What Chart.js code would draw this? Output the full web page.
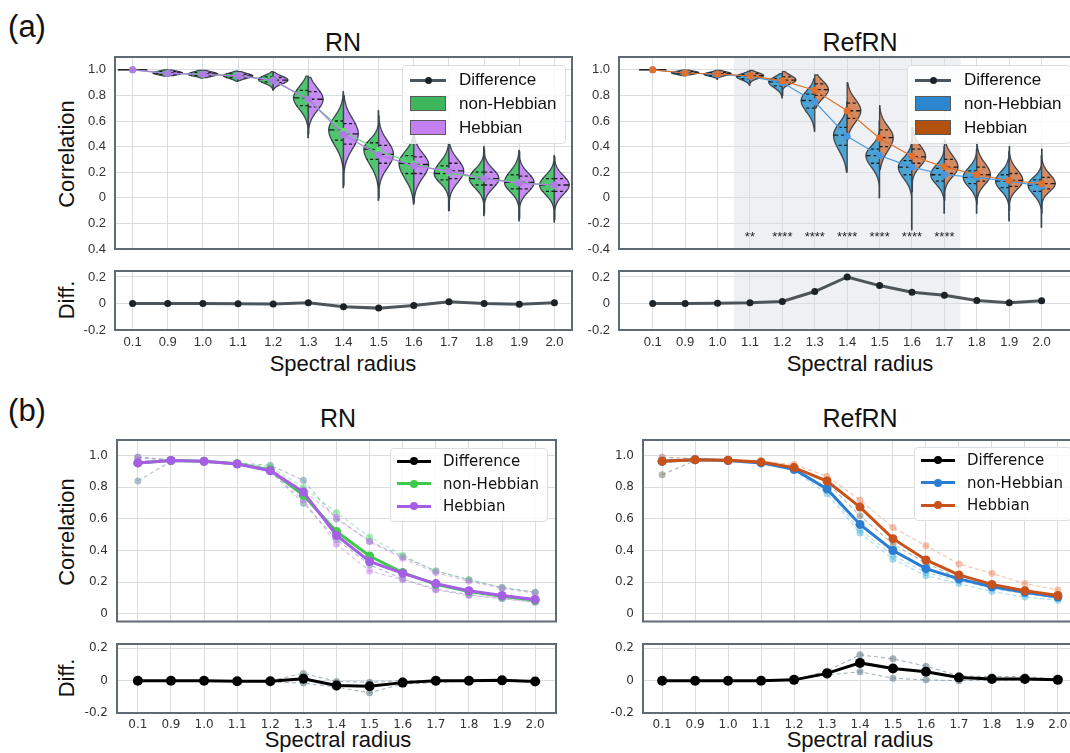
<!DOCTYPE html>
<html>
<head>
<meta charset="utf-8">
<title>Correlation vs spectral radius</title>
<script src="https://cdn.jsdelivr.net/npm/chart.js@4.4.1/dist/chart.umd.min.js"></script>
<style>
    body { margin: 0; width: 1070px; height: 753px; overflow: hidden; position: relative; background: #fff;
           font-family: 'Liberation Sans', Arial, sans-serif; color: #111; }
    canvas { position: absolute; }
    .txt { position: absolute; transform: translate(-50%, -50%); white-space: nowrap; }
    .rot { transform: translate(-50%, -50%) rotate(-90deg); }
    .legend { position: absolute; white-space: nowrap; background: rgba(255, 255, 255, 0.82); border: 1px solid #dcdfe2; border-radius: 4px; color: #111; }
    .legend .row { display: flex; align-items: center; }
    .legend .sym { position: relative; display: inline-block; flex: none; }
</style>
</head>
<body>
<div class="txt" style="left:27px;top:27px;font-size:31px">(a)</div>
<div class="txt" style="left:343px;top:42px;font-size:25px">RN</div>
<div class="txt" style="left:860px;top:42px;font-size:25px">RefRN</div>
<div class="txt rot" style="left:67px;top:154px;font-size:22px">Correlation</div>
<div class="txt rot" style="left:67px;top:300px;font-size:22px">Diff.</div>
<div class="txt" style="left:343px;top:364px;font-size:22px">Spectral radius</div>
<div class="txt" style="left:860px;top:364px;font-size:22px">Spectral radius</div>

<div class="txt" style="left:27px;top:411px;font-size:31px">(b)</div>
<div class="txt" style="left:338px;top:418px;font-size:25px">RN</div>
<div class="txt" style="left:860px;top:418px;font-size:25px">RefRN</div>
<div class="txt rot" style="left:67px;top:532px;font-size:22px">Correlation</div>
<div class="txt rot" style="left:67px;top:678px;font-size:22px">Diff.</div>
<div class="txt" style="left:338px;top:740px;font-size:22px">Spectral radius</div>
<div class="txt" style="left:860px;top:740px;font-size:22px">Spectral radius</div>

<canvas id="aRnMain"></canvas>
<canvas id="aRnDiff"></canvas>
<canvas id="aRefMain"></canvas>
<canvas id="aRefDiff"></canvas>
<canvas id="bRnMain"></canvas>
<canvas id="bRnDiff"></canvas>
<canvas id="bRefMain"></canvas>
<canvas id="bRefDiff"></canvas>

<script>
// categories and tick labels
const radius = ['0.1', '0.9', '1.0', '1.1', '1.2', '1.3', '1.4', '1.5', '1.6', '1.7', '1.8', '1.9', '2.0'];
const seriesNames = ['Difference', 'non-Hebbian', 'Hebbian'];

const corrTicksA = [-0.4, -0.2, 0, 0.2, 0.4, 0.6, 0.8, 1.0];
const corrLabelsRn = ['0.4', '0.2', '0', '0.2', '0.4', '0.6', '0.8', '1.0'];
const corrLabelsRef = ['-0.4', '-0.2', '0', '0.2', '0.4', '0.6', '0.8', '1.0'];
const corrTicksB = [0, 0.2, 0.4, 0.6, 0.8, 1.0];
const corrLabelsB = ['0', '0.2', '0.4', '0.6', '0.8', '1.0'];
const diffTicks = [-0.2, -0.1, 0, 0.1, 0.2];
const diffLabels = ['-0.2', '', '0', '', '0.2'];
const diffMinor = [-0.1, 0.1];

// (a) violin halves per radius: [min, q1, median, q3, max]
const rnNonHebViolin = [
    [1, 1, 1, 1, 1], [0.95, 0.965, 0.975, 0.985, 1.0], [0.935, 0.955, 0.965, 0.978, 0.995],
    [0.91, 0.94, 0.955, 0.968, 0.99], [0.84, 0.905, 0.925, 0.945, 0.985], [0.47, 0.72, 0.78, 0.84, 0.95],
    [0.08, 0.45, 0.53, 0.6, 0.83], [-0.02, 0.3, 0.38, 0.43, 0.68], [-0.05, 0.19, 0.27, 0.33, 0.5],
    [-0.1, 0.14, 0.19, 0.25, 0.43], [-0.14, 0.1, 0.15, 0.2, 0.4], [-0.18, 0.07, 0.12, 0.18, 0.37],
    [-0.19, 0.05, 0.1, 0.15, 0.33]
];
const rnHebViolin = [
    [1, 1, 1, 1, 1], [0.955, 0.965, 0.975, 0.985, 0.998], [0.94, 0.955, 0.967, 0.978, 0.995],
    [0.915, 0.94, 0.952, 0.965, 0.985], [0.85, 0.9, 0.92, 0.94, 0.98], [0.5, 0.71, 0.77, 0.83, 0.94],
    [0.1, 0.42, 0.5, 0.58, 0.8], [0.0, 0.27, 0.34, 0.41, 0.64], [-0.04, 0.19, 0.26, 0.32, 0.5],
    [-0.1, 0.15, 0.21, 0.27, 0.42], [-0.12, 0.1, 0.15, 0.2, 0.38], [-0.16, 0.07, 0.12, 0.17, 0.36],
    [-0.17, 0.05, 0.1, 0.15, 0.32]
];
const refNonHebViolin = [
    [1, 1, 1, 1, 1], [0.955, 0.968, 0.977, 0.985, 0.998], [0.925, 0.955, 0.965, 0.975, 0.995],
    [0.88, 0.93, 0.948, 0.962, 0.99], [0.78, 0.875, 0.905, 0.93, 0.97], [0.52, 0.7, 0.76, 0.81, 0.93],
    [0.2, 0.41, 0.49, 0.55, 0.75], [0.0, 0.27, 0.33, 0.38, 0.6], [-0.25, 0.18, 0.24, 0.29, 0.45],
    [-0.12, 0.13, 0.18, 0.23, 0.4], [-0.12, 0.11, 0.16, 0.21, 0.38], [-0.18, 0.08, 0.13, 0.18, 0.36],
    [-0.23, 0.05, 0.1, 0.14, 0.33]
];
const refHebViolin = [
    [1, 1, 1, 1, 1], [0.96, 0.97, 0.978, 0.986, 0.998], [0.94, 0.96, 0.97, 0.98, 0.995],
    [0.9, 0.94, 0.955, 0.97, 0.995], [0.8, 0.9, 0.92, 0.945, 0.985], [0.7, 0.8, 0.845, 0.89, 0.96],
    [0.45, 0.62, 0.68, 0.74, 0.9], [0.22, 0.4, 0.47, 0.53, 0.72], [0.05, 0.27, 0.32, 0.38, 0.55],
    [-0.02, 0.19, 0.24, 0.3, 0.45], [-0.05, 0.13, 0.18, 0.24, 0.43], [-0.1, 0.09, 0.135, 0.19, 0.4],
    [-0.12, 0.07, 0.11, 0.16, 0.38]
];

// (a) means and differences
const rnNonHebMeanA = [1.0, 0.972, 0.965, 0.955, 0.92, 0.765, 0.52, 0.37, 0.265, 0.195, 0.15, 0.12, 0.095];
const rnHebMeanA = [1.0, 0.972, 0.965, 0.953, 0.917, 0.77, 0.495, 0.335, 0.25, 0.208, 0.15, 0.115, 0.1];
const rnDiffA = [0, 0, 0, -0.002, -0.003, 0.005, -0.025, -0.035, -0.015, 0.013, 0, -0.005, 0.005];
const refNonHebMeanA = [1.0, 0.975, 0.965, 0.948, 0.9, 0.75, 0.48, 0.33, 0.24, 0.18, 0.16, 0.13, 0.09];
const refHebMeanA = [1.0, 0.975, 0.967, 0.953, 0.915, 0.84, 0.68, 0.465, 0.325, 0.242, 0.182, 0.135, 0.11];
const refDiffA = [0, 0, 0.002, 0.005, 0.015, 0.09, 0.2, 0.135, 0.085, 0.062, 0.022, 0.005, 0.02];

// significance stars and the shaded band (category positions)
const refSignif = ['', '', '', '**', '****', '****', '****', '****', '****', '****', '', '', ''];
const refSignifAt = -0.31;
const refBand = [2.5, 9.5];

// (b) averaged curves
const rnNonHebMeanB = [0.955, 0.97, 0.965, 0.95, 0.91, 0.75, 0.52, 0.365, 0.26, 0.185, 0.14, 0.11, 0.085];
const rnHebMeanB = [0.955, 0.97, 0.965, 0.948, 0.905, 0.77, 0.495, 0.33, 0.255, 0.19, 0.145, 0.115, 0.09];
const rnDiffB = [0, 0, 0, -0.003, -0.003, 0.012, -0.03, -0.035, -0.012, 0, 0, 0.002, -0.005];
const refNonHebMeanB = [0.965, 0.975, 0.97, 0.955, 0.915, 0.79, 0.565, 0.4, 0.285, 0.22, 0.17, 0.135, 0.105];
const refHebMeanB = [0.965, 0.975, 0.972, 0.96, 0.925, 0.84, 0.675, 0.475, 0.34, 0.245, 0.185, 0.145, 0.115];
const refDiffB = [0, 0, 0, 0, 0.005, 0.045, 0.11, 0.075, 0.055, 0.02, 0.01, 0.01, 0.005];

// (b) individual runs
const rnNonHebRun1 = [0.99, 0.975, 0.968, 0.955, 0.93, 0.8, 0.64, 0.485, 0.37, 0.27, 0.215, 0.165, 0.135];
const rnNonHebRun2 = [0.99, 0.97, 0.96, 0.945, 0.9, 0.7, 0.47, 0.31, 0.22, 0.155, 0.12, 0.095, 0.075];
const rnHebRun1 = [0.99, 0.975, 0.965, 0.95, 0.92, 0.78, 0.61, 0.455, 0.35, 0.26, 0.205, 0.16, 0.13];
const rnHebRun2 = [0.97, 0.97, 0.96, 0.945, 0.9, 0.72, 0.44, 0.27, 0.215, 0.15, 0.115, 0.095, 0.07];
const rnRunSlate = [0.84, 0.965, 0.965, 0.955, 0.94, 0.845, 0.6, 0.46, 0.36, 0.27, 0.215, 0.165, 0.135];
const rnDiffRun1 = [0, 0, 0, 0, 0, 0.045, -0.005, -0.01, 0, 0, 0.003, 0.005, 0];
const rnDiffRun2 = [0, 0, 0, -0.003, -0.008, -0.015, -0.04, -0.075, -0.02, -0.012, 0, 0, -0.003];

const refNonHebRun1 = [0.99, 0.98, 0.975, 0.955, 0.905, 0.76, 0.51, 0.345, 0.24, 0.19, 0.14, 0.105, 0.085];
const refNonHebRun2 = [0.975, 0.975, 0.97, 0.955, 0.915, 0.78, 0.53, 0.37, 0.26, 0.21, 0.16, 0.125, 0.095];
const refHebRun1 = [0.99, 0.985, 0.975, 0.965, 0.945, 0.87, 0.72, 0.545, 0.43, 0.315, 0.255, 0.19, 0.15];
const refRunGray = [0.88, 0.97, 0.97, 0.96, 0.93, 0.83, 0.62, 0.44, 0.32, 0.225, 0.175, 0.14, 0.11];
const refDiffRun1 = [0, 0, 0, 0, 0.005, 0.06, 0.16, 0.135, 0.09, 0.03, 0.025, 0.025, 0.01];
const refDiffRun2 = [0, 0, 0, 0, 0.005, 0.035, 0.055, 0.015, 0.005, 0, 0.005, 0.005, 0.005];

const Y_W = 52;
const PAD = 10;
const HALF_W = 0.42;
const fontA = { family: "'Liberation Sans', Arial, sans-serif", size: 13 };
const fontB = { family: "'DejaVu Sans', sans-serif", size: 12 };

const pts = arr => arr.map((v, i) => ({ x: i, y: v }));

function line(data, color, extra) {
    return Object.assign({
        data: pts(data),
        borderColor: color,
        backgroundColor: color,
        pointBackgroundColor: color,
        pointBorderWidth: 0,
        borderWidth: 3,
        pointRadius: 4.5,
        tension: 0,
        fill: false
    }, extra || {});
}

function runLine(data, color) {
    return line(data, color, { borderWidth: 1.1, borderDash: [4, 3], pointRadius: 3.5 });
}

// box around the plot area
const framePlugin = {
    id: 'frame',
    afterDraw(chart) {
        const { ctx, chartArea: a } = chart;
        ctx.save();
        ctx.strokeStyle = '#5f6a74';
        ctx.lineWidth = 2;
        ctx.strokeRect(a.left, a.top, a.right - a.left, a.bottom - a.top);
        ctx.restore();
    }
};

function shade(range) {
    return {
        id: 'shade',
        beforeDraw(chart) {
            const { ctx, chartArea: a, scales: { x } } = chart;
            const x0 = x.getPixelForValue(range[0]);
            const x1 = x.getPixelForValue(range[1]);
            ctx.save();
            ctx.fillStyle = '#eef0f3';
            ctx.fillRect(x0, a.top, x1 - x0, a.bottom - a.top);
            ctx.restore();
        }
    };
}

// one side of a split violin, smoothed from its quartiles
function drawHalf(ctx, x, y, i, st, side, fill) {
    const [lo, q1, med, q3, hi] = st;
    const cx = x.getPixelForValue(i);
    const w = x.getPixelForValue(i + HALF_W) - cx;
    ctx.setLineDash([]);
    if (hi - lo < 1e-6) {
        ctx.strokeStyle = '#222';
        ctx.lineWidth = 1.6;
        ctx.beginPath();
        ctx.moveTo(cx, y.getPixelForValue(med));
        ctx.lineTo(cx + side * w, y.getPixelForValue(med));
        ctx.stroke();
        return;
    }
    const sLo = Math.max(med - q1, 1e-3) / 0.674;
    const sHi = Math.max(q3 - med, 1e-3) / 0.674;
    const dens = v => Math.max(Math.exp(-0.5 * Math.pow((v - med) / (v < med ? sLo : sHi), 2)), 0.03);
    const steps = 70;

    ctx.beginPath();
    ctx.moveTo(cx, y.getPixelForValue(lo));
    for (let k = 0; k <= steps; k++) {
        const v = lo + (hi - lo) * k / steps;
        ctx.lineTo(cx + side * w * dens(v), y.getPixelForValue(v));
    }
    ctx.lineTo(cx, y.getPixelForValue(hi));
    ctx.closePath();
    ctx.fillStyle = fill;
    ctx.fill();
    ctx.strokeStyle = '#3b4650';
    ctx.lineWidth = 1.3;
    ctx.lineJoin = 'round';
    ctx.stroke();

    // quartile lines
    ctx.strokeStyle = '#1b1b1b';
    ctx.lineWidth = 1.3;
    [q1, med, q3].forEach(v => {
        ctx.setLineDash(v === med ? [6, 3] : [3, 2.5]);
        ctx.beginPath();
        ctx.moveTo(cx, y.getPixelForValue(v));
        ctx.lineTo(cx + side * w * dens(v), y.getPixelForValue(v));
        ctx.stroke();
    });
    ctx.setLineDash([]);
}

function violins(left, right, colors) {
    return {
        id: 'violins',
        beforeDatasetsDraw(chart) {
            const { ctx, chartArea: a, scales: { x, y } } = chart;
            ctx.save();
            ctx.beginPath();
            ctx.rect(a.left, a.top, a.right - a.left, a.bottom - a.top);
            ctx.clip();
            left.forEach((st, i) => {
                drawHalf(ctx, x, y, i, st, -1, colors[0]);
                drawHalf(ctx, x, y, i, right[i], 1, colors[1]);
            });
            ctx.restore();
        }
    };
}

function sigMarks(marks, at) {
    return {
        id: 'sigMarks',
        afterDatasetsDraw(chart) {
            const { ctx, scales: { x, y } } = chart;
            ctx.save();
            ctx.fillStyle = '#222';
            ctx.font = "13px 'Liberation Sans', Arial, sans-serif";
            ctx.textAlign = 'center';
            ctx.textBaseline = 'middle';
            marks.forEach((m, i) => {
                if (m) ctx.fillText(m, x.getPixelForValue(i), y.getPixelForValue(at));
            });
            ctx.restore();
        }
    };
}

// axes keep no extra room for edge labels, so the plot area is exactly the box
function noEdgePadding(s) {
    s.paddingTop = 0;
    s.paddingBottom = 0;
    s.paddingLeft = 0;
    s.paddingRight = 0;
}

function panel(id, box, cfg) {
    const canvas = document.getElementById(id);
    const xh = cfg.xLabels ? 24 : 0;
    canvas.width = box.r - box.l + Y_W + PAD;
    canvas.height = box.b - box.t + PAD + xh + 2;
    canvas.style.left = (box.l - Y_W) + 'px';
    canvas.style.top = (box.t - PAD) + 'px';
    const minor = cfg.minor || [];

    return new Chart(canvas, {
        type: 'line',
        data: { datasets: cfg.datasets },
        options: {
            responsive: false,
            animation: false,
            devicePixelRatio: 1,
            layout: { padding: { top: PAD, right: PAD, left: 0, bottom: 2 } },
            plugins: { legend: { display: false }, tooltip: { enabled: false } },
            scales: {
                x: {
                    type: 'linear',
                    min: cfg.xMin,
                    max: cfg.xMax,
                    afterBuildTicks: s => { s.ticks = radius.map((_, i) => ({ value: i })); },
                    afterFit: s => { s.height = xh; noEdgePadding(s); },
                    border: { display: false },
                    grid: { color: '#d9dde2', drawTicks: false },
                    ticks: {
                        display: !!cfg.xLabels,
                        autoSkip: false,
                        maxRotation: 0,
                        padding: 5,
                        color: '#333',
                        font: cfg.font,
                        callback: v => radius[v]
                    }
                },
                y: {
                    min: cfg.yMin,
                    max: cfg.yMax,
                    afterBuildTicks: s => { s.ticks = cfg.yTicks.map(v => ({ value: v })); },
                    afterFit: s => { s.width = Y_W; noEdgePadding(s); },
                    border: { display: false },
                    grid: {
                        drawTicks: false,
                        color: c => (minor.includes(c.tick.value) ? '#e9ebee' : '#d9dde2')
                    },
                    ticks: {
                        padding: 9,
                        color: '#333',
                        font: cfg.font,
                        callback: (v, i) => cfg.yLabels[i]
                    }
                }
            }
        },
        plugins: [framePlugin].concat(cfg.plugins || [])
    });
}

// HTML legend placed over the plot area
function legend(left, top, entries, o) {
    const box = document.createElement('div');
    box.className = 'legend';
    box.style.left = left + 'px';
    box.style.top = top + 'px';
    box.style.padding = o.pad;
    box.style.font = o.font;
    entries.forEach(e => {
        const row = document.createElement('div');
        row.className = 'row';
        row.style.height = o.rowH + 'px';
        const sym = document.createElement('span');
        sym.className = 'sym';
        sym.style.width = o.symW + 'px';
        sym.style.height = o.rowH + 'px';
        sym.style.marginRight = o.gap + 'px';
        if (e.patch) {
            sym.innerHTML = '<span style="position:absolute;left:0;right:0;top:' + (o.rowH / 2 - 8) +
                'px;height:15px;box-sizing:border-box;border:1px solid #5a5a5a;background:' + e.color + '"></span>';
        } else {
            sym.innerHTML = '<span style="position:absolute;left:0;right:0;top:' + (o.rowH / 2 - 1.5) +
                'px;height:3px;background:' + e.color + '"></span>' +
                '<span style="position:absolute;left:' + (o.symW / 2 - o.dot / 2) + 'px;top:' + (o.rowH / 2 - o.dot / 2) +
                'px;width:' + o.dot + 'px;height:' + o.dot + 'px;border-radius:50%;background:' + (e.dotColor || e.color) + '"></span>';
        }
        const label = document.createElement('span');
        label.textContent = e.label;
        row.appendChild(sym);
        row.appendChild(label);
        box.appendChild(row);
    });
    document.body.appendChild(box);
}

// ---- (a) violins
const boxARnMain = { l: 115, t: 57, r: 572, b: 251 };
const boxARnDiff = { l: 115, t: 271, r: 572, b: 330 };
const boxARefMain = { l: 619, t: 57, r: 1075, b: 251 };
const boxARefDiff = { l: 619, t: 271, r: 1075, b: 330 };

const diffColorA = 'rgba(48, 58, 64, 0.85)';

panel('aRnMain', boxARnMain, {
    xMin: -0.5, xMax: 12.5, yMin: -0.4, yMax: 1.1,
    yTicks: corrTicksA, yLabels: corrLabelsRn, font: fontA,
    datasets: [
        line(rnHebMeanA, '#b07ae8', { borderWidth: 1.2, pointRadius: 3.5 }),
        line(rnNonHebMeanA, '#62d874', { borderWidth: 1.2, pointRadius: 3.5 })
    ],
    plugins: [violins(rnNonHebViolin, rnHebViolin, ['#50c46f', '#c68cf2'])]
});
panel('aRnDiff', boxARnDiff, {
    xMin: -0.5, xMax: 12.5, yMin: -0.2, yMax: 0.245, xLabels: true,
    yTicks: diffTicks, yLabels: diffLabels, minor: diffMinor, font: fontA,
    datasets: [line(rnDiffA, diffColorA, { borderWidth: 3, pointRadius: 3.5, pointBackgroundColor: '#1d2226' })]
});
panel('aRefMain', boxARefMain, {
    xMin: -1.04, xMax: 13.03, yMin: -0.4, yMax: 1.1,
    yTicks: corrTicksA, yLabels: corrLabelsRef, font: fontA,
    datasets: [
        line(refHebMeanA, '#e0702c', { borderWidth: 1.2, pointRadius: 3.5 }),
        line(refNonHebMeanA, '#4898e0', { borderWidth: 1.2, pointRadius: 3.5 })
    ],
    plugins: [shade(refBand), violins(refNonHebViolin, refHebViolin, ['#4ca4d2', '#d48b62']), sigMarks(refSignif, refSignifAt)]
});
panel('aRefDiff', boxARefDiff, {
    xMin: -1.04, xMax: 13.03, yMin: -0.2, yMax: 0.245, xLabels: true,
    yTicks: diffTicks, yLabels: diffLabels, minor: diffMinor, font: fontA,
    datasets: [line(refDiffA, diffColorA, { borderWidth: 3, pointRadius: 3.5, pointBackgroundColor: '#1d2226' })],
    plugins: [shade(refBand)]
});

const legendA = { font: "17px 'Liberation Sans', Arial, sans-serif", pad: '2px 9px 3px 7px', rowH: 24, symW: 36, gap: 13, dot: 7 };
legend(402, 65, [
    { label: seriesNames[0], color: '#4a555e', dotColor: '#1e2226' },
    { label: seriesNames[1], color: '#3db75b', patch: true },
    { label: seriesNames[2], color: '#c47ff2', patch: true }
], legendA);
legend(907, 65, [
    { label: seriesNames[0], color: '#4a555e', dotColor: '#1e2226' },
    { label: seriesNames[1], color: '#2c87cf', patch: true },
    { label: seriesNames[2], color: '#b3510f', patch: true }
], legendA);

// ---- (b) averaged runs
const boxBRnMain = { l: 117, t: 440, r: 556, b: 624 };
const boxBRnDiff = { l: 117, t: 644, r: 556, b: 713 };
const boxBRefMain = { l: 643, t: 440, r: 1077, b: 624 };
const boxBRefDiff = { l: 643, t: 644, r: 1077, b: 713 };

const slate = 'rgba(125, 152, 176, 0.6)';
const diffRunColor = 'rgba(105, 128, 138, 0.6)';

panel('bRnMain', boxBRnMain, {
    xMin: -0.63, xMax: 12.63, yMin: -0.05, yMax: 1.1,
    yTicks: corrTicksB, yLabels: corrLabelsB, font: fontB,
    datasets: [
        line(rnHebMeanB, '#a65ee6'),
        line(rnNonHebMeanB, '#3ec94c'),
        runLine(rnHebRun1, 'rgba(196, 120, 238, 0.5)'),
        runLine(rnHebRun2, 'rgba(196, 120, 238, 0.5)'),
        runLine(rnNonHebRun1, 'rgba(90, 215, 120, 0.5)'),
        runLine(rnNonHebRun2, slate),
        runLine(rnRunSlate, slate)
    ]
});
panel('bRnDiff', boxBRnDiff, {
    xMin: -0.63, xMax: 12.63, yMin: -0.2, yMax: 0.227, xLabels: true,
    yTicks: diffTicks, yLabels: diffLabels, minor: diffMinor, font: fontB,
    datasets: [
        line(rnDiffB, '#000', { pointRadius: 5 }),
        runLine(rnDiffRun1, diffRunColor),
        runLine(rnDiffRun2, diffRunColor)
    ]
});
panel('bRefMain', boxBRefMain, {
    xMin: -0.58, xMax: 12.58, yMin: -0.05, yMax: 1.1,
    yTicks: corrTicksB, yLabels: corrLabelsB, font: fontB,
    datasets: [
        line(refHebMeanB, '#c9521c'),
        line(refNonHebMeanB, '#2a7dd2'),
        runLine(refHebRun1, 'rgba(238, 140, 100, 0.55)'),
        runLine(refRunGray, 'rgba(120, 125, 110, 0.55)'),
        runLine(refNonHebRun1, 'rgba(80, 185, 225, 0.5)'),
        runLine(refNonHebRun2, 'rgba(80, 185, 225, 0.5)')
    ]
});
panel('bRefDiff', boxBRefDiff, {
    xMin: -0.58, xMax: 12.58, yMin: -0.2, yMax: 0.227, xLabels: true,
    yTicks: diffTicks, yLabels: diffLabels, minor: diffMinor, font: fontB,
    datasets: [
        line(refDiffB, '#000', { pointRadius: 5 }),
        runLine(refDiffRun1, diffRunColor),
        runLine(refDiffRun2, diffRunColor)
    ]
});

const legendB = { font: "15px 'DejaVu Sans', sans-serif", pad: '1px 8px 3px 6px', rowH: 22.5, symW: 34, gap: 12, dot: 8 };
legend(390, 448, [
    { label: seriesNames[0], color: '#000' },
    { label: seriesNames[1], color: '#3ec94c' },
    { label: seriesNames[2], color: '#a65ee6' }
], legendB);
legend(914, 447, [
    { label: seriesNames[0], color: '#000' },
    { label: seriesNames[1], color: '#2a7dd2' },
    { label: seriesNames[2], color: '#c9521c' }
], legendB);
</script>
</body>
</html>
